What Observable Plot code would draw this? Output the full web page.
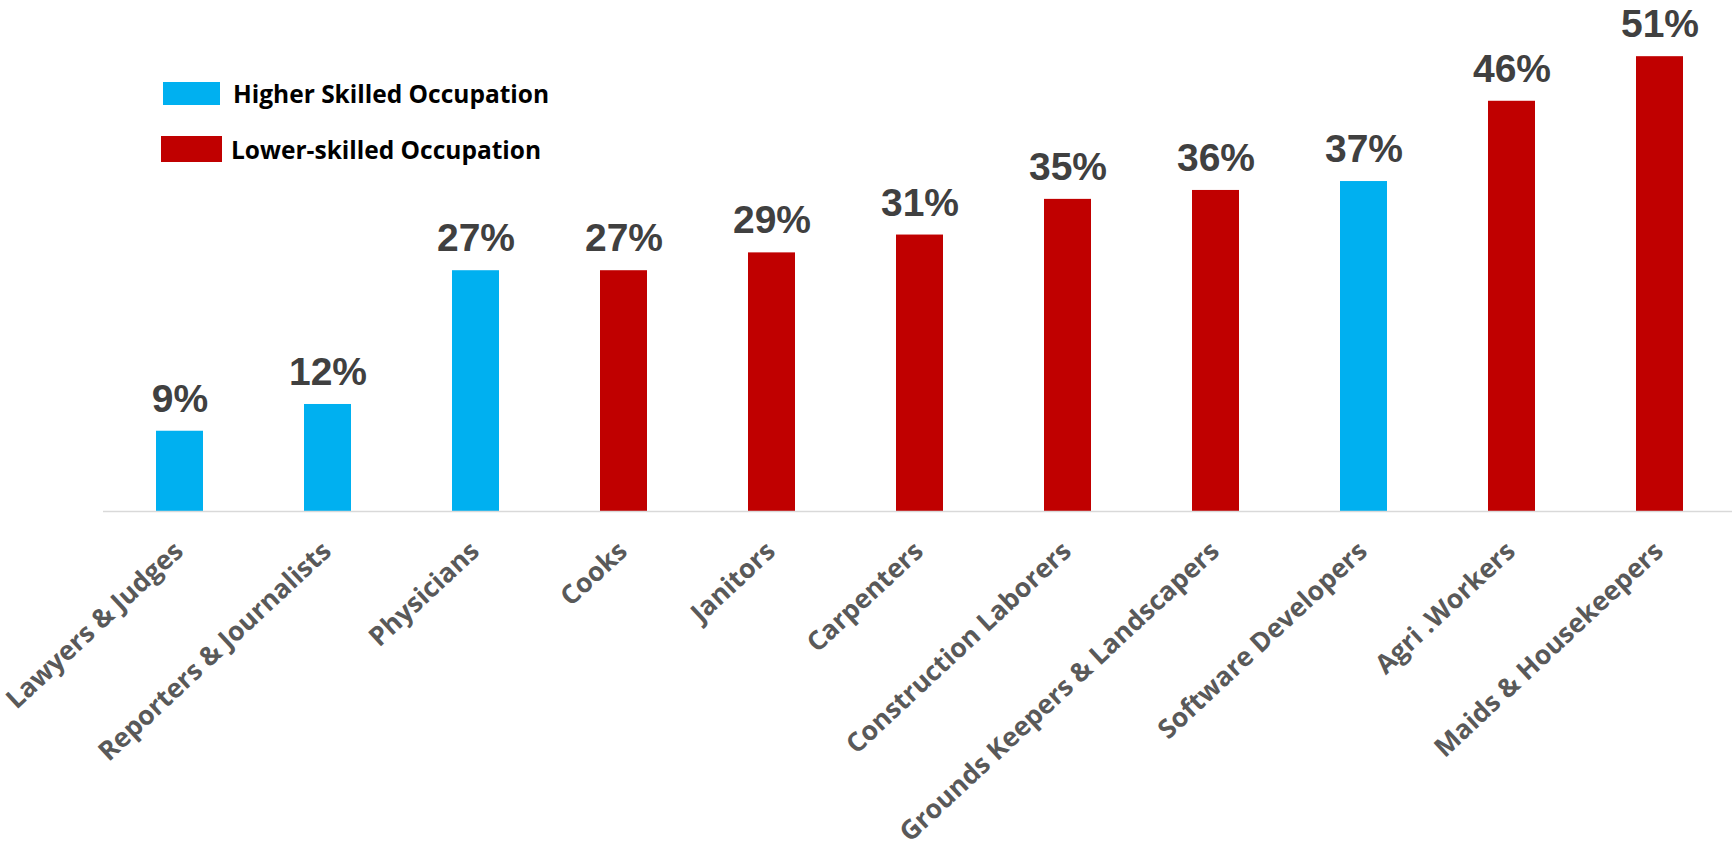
<!DOCTYPE html>
<html>
<head>
<meta charset="utf-8">
<script src="https://cdn.jsdelivr.net/npm/d3@7"></script>
<script src="https://cdn.jsdelivr.net/npm/@observablehq/plot@0.6"></script>
<style>
  html, body { margin: 0; padding: 0; background: #fff; }
  #wrap { position: relative; width: 1732px; height: 846px; }
  .leg { position: absolute; display: flex; align-items: center; font-family: "Open Sans", sans-serif; font-weight: 700; font-size: 24.5px; color: #000; white-space: nowrap; }
  .sw { display: inline-block; }
</style>
</head>
<body>
<div id="wrap">
  <div class="leg" style="left:163px; top:77px; height:32px;"><span class="sw" style="width:57px;height:23px;background:#00B0F0;margin-right:13px;"></span><span>Higher Skilled Occupation</span></div>
  <div class="leg" style="left:161px; top:133px; height:32px;"><span class="sw" style="width:61px;height:26px;background:#C00000;margin-right:9px;"></span><span>Lower-skilled Occupation</span></div>
</div>
<script>
const occupations = ["Lawyers & Judges", "Reporters & Journalists", "Physicians", "Cooks", "Janitors", "Carpenters", "Construction Laborers", "Grounds Keepers & Landscapers", "Software Developers", "Agri .Workers", "Maids & Housekeepers"];
const shares = [9, 12, 27, 27, 29, 31, 35, 36, 37, 46, 51];
const skill = ["Higher", "Higher", "Higher", "Lower", "Lower", "Lower", "Lower", "Lower", "Higher", "Lower", "Lower"];
const skillLabels = ["Higher Skilled Occupation", "Lower-skilled Occupation"];

const data = occupations.map((o, i) => ({occ: o, value: shares[i], skill: skill[i]}));

const chart = Plot.plot({
  width: 1732,
  height: 846,
  marginTop: 0,
  marginLeft: 103,
  marginRight: 0,
  marginBottom: 335,
  x: {domain: occupations, range: [103, 1736], paddingInner: 0.683, paddingOuter: 0.3415, axis: null},
  y: {domain: [0, 57.3], axis: null},
  color: {domain: ["Higher", "Lower"], range: ["#00B0F0", "#C00000"]},
  marks: [
    Plot.barY(data, {x: "occ", y: "value", fill: "skill"}),
    Plot.ruleY([0], {stroke: "#d9d9d9", strokeWidth: 1.5}),
    Plot.text(data, {x: "occ", y: "value", text: d => d.value + "%", dy: -19.5, lineAnchor: "bottom", fontSize: 39, fontWeight: "bold", fontFamily: "Liberation Sans, Arial, sans-serif", fill: "#404040"}),
    Plot.text(data, {x: "occ", text: "occ", frameAnchor: "bottom", dx: -1, dy: 35.5, rotate: -43, textAnchor: "end", lineAnchor: "middle", fontSize: 26.5, fontWeight: "bold", fontFamily: "Open Sans, sans-serif", fill: "#595959"})
  ]
});
chart.style.position = "absolute";
chart.style.left = "0";
chart.style.top = "0";
chart.style.overflow = "visible";
document.getElementById("wrap").prepend(chart);
</script>
</body>
</html>
